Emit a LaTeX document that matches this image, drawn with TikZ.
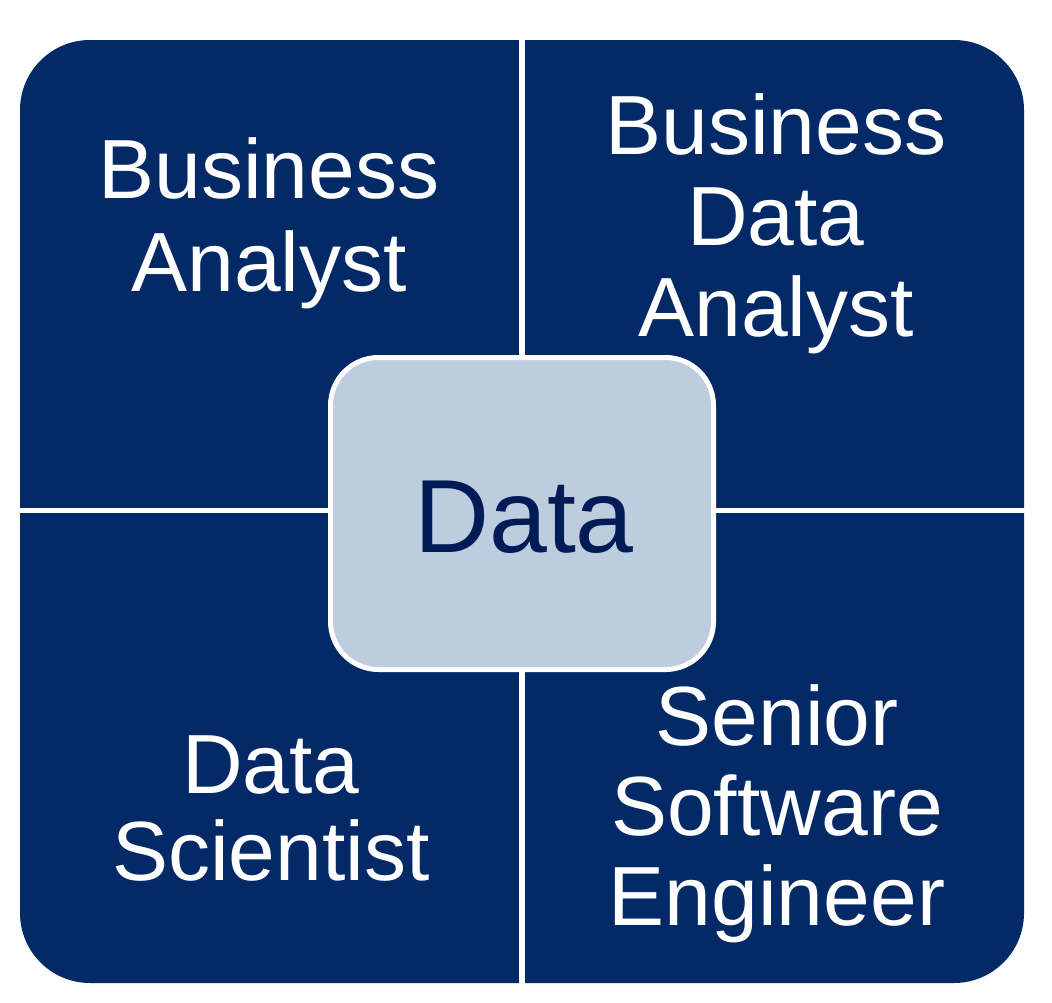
\documentclass[tikz,border=0pt]{standalone}
\usepackage{fontspec}
\setmainfont{Liberation Sans}
\definecolor{navy}{RGB}{3,41,102}
\definecolor{paleblue}{RGB}{190,204,224}
\definecolor{datatext}{RGB}{0,27,85}
\tikzset{
  quadtext/.style={font=\fontsize{84}{#1}\selectfont, text=white, align=center, inner sep=0pt, anchor=base},
  divider/.style={draw=white, line width=#1},
  hub/.style={draw=white, line width=5pt, fill=paleblue, rounded corners=48pt, minimum width=383pt, minimum height=312pt, inner sep=0pt, text=datatext, font=\fontsize{104}{110}\selectfont}
}
\begin{document}
\begin{tikzpicture}[x=1pt,y=-1pt]
\useasboundingbox (0,0) rectangle (1052,1002);
\fill[white] (0,0) rectangle (1052,1002);
\fill[navy, rounded corners=70pt] (20,40) rectangle (1024,983);
\coordinate (vtop) at (522,36);
\coordinate (vbot) at (522,987);
\coordinate (hl) at (16,510);
\coordinate (hr) at (1028,510);
\draw[divider=6pt] (vtop) -- (vbot);
\draw[divider=5pt] (hl) -- (hr);
\node[hub] (data) at (522,513.5) {};
\node[text=datatext, font=\fontsize{104}{110}\selectfont, inner sep=0pt, anchor=base] (datalabel) at (524,552) {Data};
\node[quadtext=93] (ba) at (269,291) {Business\\Analyst};
\node[quadtext=91] (bda) at (776,336) {Business\\Data\\Analyst};
\node[quadtext=87] (ds) at (271,880) {Data\\Scientist};
\node[quadtext=90] (sse) at (777,925) {Senior\\Software\\Engineer};
\end{tikzpicture}
\end{document}
